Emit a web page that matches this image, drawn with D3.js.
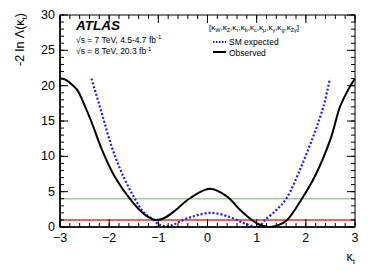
<!DOCTYPE html>
<html>
<head>
<meta charset="utf-8">
<script src="https://cdn.jsdelivr.net/npm/d3@7"></script>
<style>
  body { margin: 0; background: #fff; }
  svg { font-family: "Liberation Sans", Arial, sans-serif; }
</style>
</head>
<body>
<svg width="374" height="271"></svg>
<script>
// observed scan
const obsK = [-3.0, -2.9, -2.8, -2.65, -2.5, -2.35, -2.15, -1.9, -1.6, -1.35, -1.2, -1.05, -0.9, -0.7, -0.35, 0.05, 0.4, 0.65, 0.9, 1.05, 1.25, 1.45, 1.62, 1.92, 2.2, 2.5, 2.7, 2.9, 3.0]
const obsV = [21.0, 20.9, 20.4, 19.4, 17.2, 14.7, 11.0, 7.3, 4.2, 2.2, 1.4, 1.0, 1.2, 2.1, 4.1, 5.4, 4.3, 2.5, 1.0, 0.35, 0.0, 0.3, 1.0, 4.0, 7.4, 12.4, 17.1, 19.9, 21.0]
// SM expected scan
const expK = [-2.36, -2.15, -1.95, -1.74, -1.47, -1.3, -1.1, -1.0, -0.85, -0.7, -0.56, -0.29, 0.08, 0.46, 0.73, 0.9, 1.03, 1.17, 1.4, 1.61, 1.88, 2.15, 2.36, 2.49]
const expV = [21.0, 16.1, 11.4, 7.6, 3.9, 2.1, 1.0, 0.4, 0.1, 0.3, 0.8, 1.5, 2.0, 1.4, 0.57, 0.15, 0.0, 1.0, 2.4, 4.1, 8.1, 12.8, 17.1, 21.0]
// 68% and 95% CL lines
const clLevels = [1, 4]
const clColors = ['#e8302c', '#9bd49b']
const xTicks = [-3, -2, -1, 0, 1, 2, 3]
const yTicks = [0, 5, 10, 15, 20, 25, 30]

const svg = d3.select('svg')
const margin = {top: 15, right: 19, bottom: 44, left: 60}
const width = 374 - margin.left - margin.right
const height = 271 - margin.top - margin.bottom

const x = d3.scaleLinear().domain([-3, 3]).range([0, width])
const y = d3.scaleLinear().domain([0, 30]).range([height, 0])

const g = svg.append('g')
  .attr('transform', 'translate(' + margin.left + ',' + margin.top + ')')

// horizontal CL lines
clLevels.forEach((lv, i) => {
  g.append('line')
    .attr('x1', 0).attr('x2', width)
    .attr('y1', y(lv)).attr('y2', y(lv))
    .attr('stroke', clColors[i]).attr('stroke-width', 1.5)
})

const line = d3.line()
  .x(d => x(d[0]))
  .y(d => y(d[1]))
  .curve(d3.curveCatmullRom.alpha(0.5))

g.append('path')
  .datum(expK.map((k, i) => [k, expV[i]]))
  .attr('d', line)
  .attr('fill', 'none')
  .attr('stroke', '#1a1aff')
  .attr('stroke-width', 2.2)
  .attr('stroke-dasharray', '2,2')

g.append('path')
  .datum(obsK.map((k, i) => [k, obsV[i]]))
  .attr('d', line)
  .attr('fill', 'none')
  .attr('stroke', '#000')
  .attr('stroke-width', 2)

// axes, ROOT style: ticks inside the frame
const minorX = d3.range(-3, 3.001, 0.2)
const minorY = d3.range(0, 30.001, 1)

function drawTicks(vals, len, isX) {
  vals.forEach(v => {
    if (isX) {
      g.append('line').attr('x1', x(v)).attr('x2', x(v)).attr('y1', height).attr('y2', height - len)
        .attr('stroke', '#000').attr('stroke-width', 1)
      g.append('line').attr('x1', x(v)).attr('x2', x(v)).attr('y1', 0).attr('y2', len)
        .attr('stroke', '#000').attr('stroke-width', 1)
    } else {
      g.append('line').attr('x1', 0).attr('x2', len).attr('y1', y(v)).attr('y2', y(v))
        .attr('stroke', '#000').attr('stroke-width', 1)
      g.append('line').attr('x1', width).attr('x2', width - len).attr('y1', y(v)).attr('y2', y(v))
        .attr('stroke', '#000').attr('stroke-width', 1)
    }
  })
}
drawTicks(minorX, 4, true)
drawTicks(xTicks, 8, true)
drawTicks(minorY, 4, false)
drawTicks(yTicks, 8, false)

g.append('rect')
  .attr('width', width).attr('height', height)
  .attr('fill', 'none').attr('stroke', '#000').attr('stroke-width', 1)
g.append('line').attr('x1', 0).attr('x2', 0).attr('y1', 0).attr('y2', height)
  .attr('stroke', '#000').attr('stroke-width', 1.6)
g.append('line').attr('x1', 0).attr('x2', width).attr('y1', height).attr('y2', height)
  .attr('stroke', '#000').attr('stroke-width', 1.6)

const fmt = v => v < 0 ? '\u2212' + Math.abs(v) : String(v)
g.selectAll('.xlab').data(xTicks).enter().append('text')
  .attr('x', d => x(d)).attr('y', height + 15)
  .attr('text-anchor', 'middle').attr('font-size', 12.5)
  .text(fmt)
g.selectAll('.ylab').data(yTicks).enter().append('text')
  .attr('x', -5).attr('y', d => y(d) + 4)
  .attr('text-anchor', 'end').attr('font-size', 12.5)
  .text(d => d)

// axis titles
const yt = svg.append('text')
  .attr('transform', 'translate(24,13) rotate(-90)')
  .attr('text-anchor', 'end').attr('font-size', 12.5)
yt.append('tspan').text('-2 ln \u039b(\u03ba')
yt.append('tspan').attr('font-size', 8).attr('dy', 3).text('t')
yt.append('tspan').attr('dy', -3).text(')')

const xt = svg.append('text')
  .attr('x', 355).attr('y', 261)
  .attr('text-anchor', 'end').attr('font-size', 12.5)
xt.append('tspan').text('\u03ba')
xt.append('tspan').attr('font-size', 8).attr('dy', 3).text('t')

// ATLAS label
svg.append('text').attr('x', 76).attr('y', 30)
  .attr('font-size', 13.5).attr('font-weight', 'bold').attr('font-style', 'italic')
  .text('ATLAS')
const lumi = [['7 TeV, 4.5-4.7 fb', 42.5], ['8 TeV, 20.3 fb', 54]]
lumi.forEach(([t, yy]) => {
  const tx = svg.append('text').attr('x', 76).attr('y', yy).attr('font-size', 8.5)
  tx.append('tspan').text('\u221as = ' + t)
  tx.append('tspan').attr('font-size', 6).attr('dy', -3.5).text('-1')
})

// legend
const pars = ['W', 'Z', '\u03c4', 'b', 'c', '\u03bc', '\u03b3', 'g', 'Z\u03b3']
const br = svg.append('text').attr('x', 209).attr('y', 30).attr('font-size', 8)
br.append('tspan').text('[')
pars.forEach((p, i) => {
  br.append('tspan').attr('dy', i === 0 ? 0 : -2).text((i === 0 ? '' : ',') + '\u03ba')
  br.append('tspan').attr('font-size', 5.5).attr('dy', 2).text(p)
})
br.append('tspan').attr('dy', -2).text(']')

const leg = svg.append('g')
leg.append('line').attr('x1', 213).attr('x2', 226).attr('y1', 42).attr('y2', 42)
  .attr('stroke', '#1a1aff').attr('stroke-width', 2).attr('stroke-dasharray', '1.5,1.5')
leg.append('text').attr('x', 229).attr('y', 45).attr('font-size', 8.5).text('SM expected')
leg.append('line').attr('x1', 213).attr('x2', 226).attr('y1', 52).attr('y2', 52)
  .attr('stroke', '#000').attr('stroke-width', 2)
leg.append('text').attr('x', 229).attr('y', 55.5).attr('font-size', 8.5).text('Observed')
</script>
</body>
</html>
